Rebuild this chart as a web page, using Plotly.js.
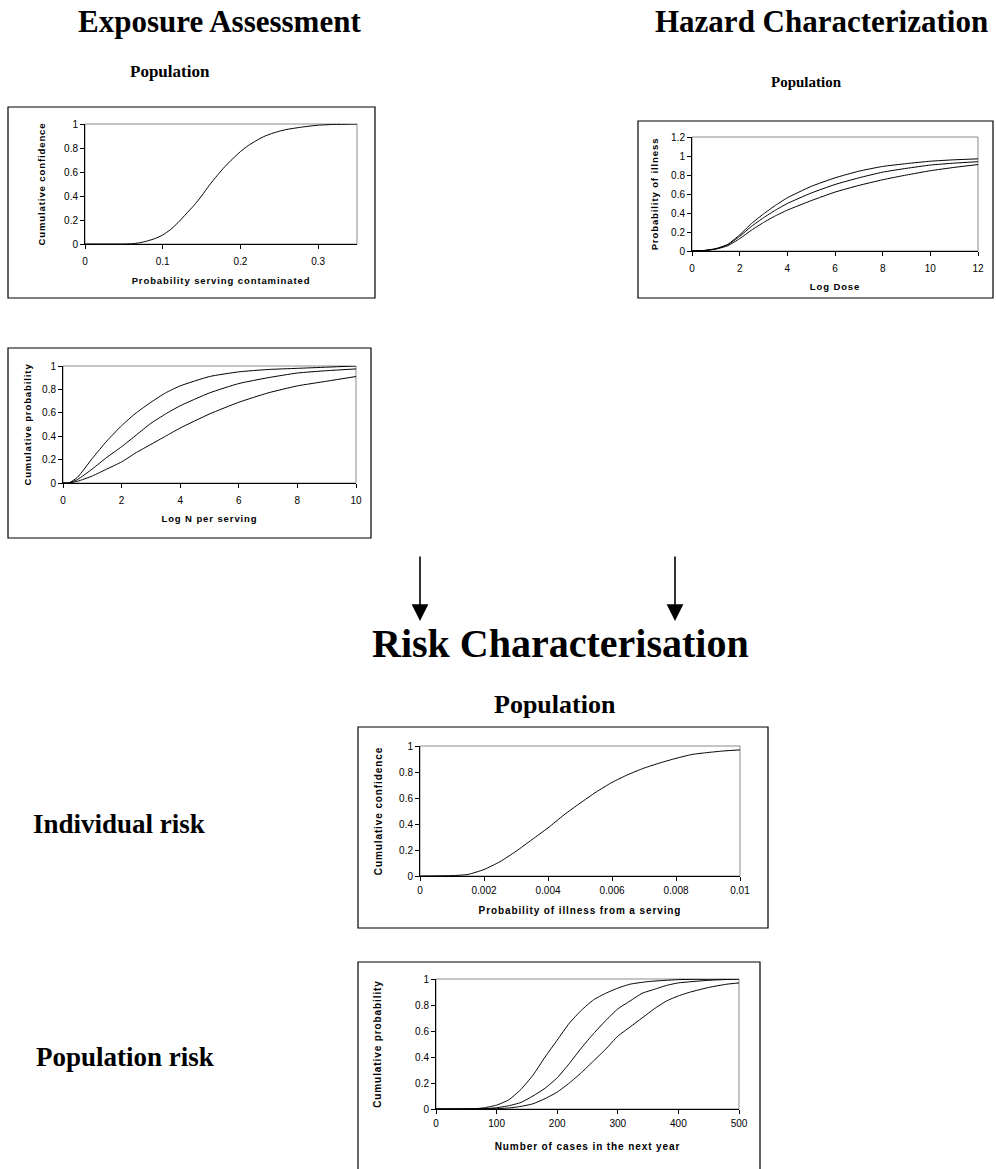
<!DOCTYPE html>
<html>
<head>
<meta charset="utf-8">
<script src="https://cdn.plot.ly/plotly-3.0.1.min.js"></script>
<style>
html,body{margin:0;padding:0;background:#fff;}
#chart{width:996px;height:1169px;}
text.xtitle,text.x2title,text.x3title,text.x4title,text.x5title,
text.ytitle,text.y2title,text.y3title,text.y4title,text.y5title{letter-spacing:0.9px;}
</style>
</head>
<body>
<div id="chart"></div>
<script>
// ---------- DATA ----------
// Exposure assessment: probability serving contaminated (cumulative confidence)
const contamX = [0, 0.05, 0.06, 0.07, 0.08, 0.09, 0.10, 0.11, 0.12, 0.13, 0.14, 0.15, 0.16, 0.17, 0.18, 0.19, 0.20, 0.21, 0.22, 0.23, 0.24, 0.25, 0.26, 0.28, 0.30, 0.32, 0.35];
const contamY = [0, 0, 0.002, 0.01, 0.025, 0.045, 0.075, 0.12, 0.18, 0.25, 0.32, 0.40, 0.49, 0.57, 0.645, 0.71, 0.77, 0.82, 0.86, 0.895, 0.92, 0.94, 0.955, 0.975, 0.99, 0.996, 1.0];

// Hazard characterization: dose-response curves
const doseX = [0, 0.5, 1, 1.5, 2, 2.5, 3, 3.5, 4, 5, 6, 7, 8, 9, 10, 11, 12];
const doseHigh = [0, 0.005, 0.025, 0.07, 0.17, 0.29, 0.39, 0.48, 0.56, 0.68, 0.77, 0.84, 0.89, 0.92, 0.945, 0.96, 0.97];
const doseMid  = [0, 0.005, 0.022, 0.065, 0.155, 0.26, 0.35, 0.43, 0.50, 0.61, 0.70, 0.77, 0.83, 0.87, 0.905, 0.925, 0.94];
const doseLow  = [0, 0.004, 0.02, 0.055, 0.13, 0.22, 0.30, 0.37, 0.43, 0.53, 0.62, 0.69, 0.75, 0.80, 0.845, 0.88, 0.91];

// Exposure assessment: Log N per serving
const logNX = [0, 0.2, 0.5, 1, 1.5, 2, 2.5, 3, 3.5, 4, 5, 6, 7, 8, 9, 10];
const logNHigh = [0, 0, 0.05, 0.21, 0.36, 0.49, 0.60, 0.69, 0.77, 0.83, 0.91, 0.95, 0.97, 0.98, 0.99, 1.0];
const logNMid  = [0, 0, 0.03, 0.12, 0.22, 0.31, 0.41, 0.51, 0.59, 0.66, 0.77, 0.85, 0.90, 0.94, 0.96, 0.975];
const logNLow  = [0, 0, 0.015, 0.06, 0.12, 0.18, 0.26, 0.33, 0.40, 0.47, 0.59, 0.69, 0.77, 0.83, 0.87, 0.91];

// Risk characterisation: individual risk
const indivX = [0, 0.001, 0.0015, 0.002, 0.0025, 0.003, 0.0035, 0.004, 0.0045, 0.005, 0.0055, 0.006, 0.0065, 0.007, 0.0075, 0.008, 0.0085, 0.009, 0.0095, 0.01];
const indivY = [0, 0.003, 0.012, 0.05, 0.11, 0.19, 0.28, 0.37, 0.47, 0.56, 0.645, 0.72, 0.78, 0.83, 0.87, 0.905, 0.935, 0.95, 0.962, 0.97];

// Risk characterisation: population risk (number of cases)
const casesX1 = [0, 60, 80, 100, 120, 140, 160, 180, 200, 220, 240, 260, 280, 300, 320, 350, 400, 500];
const casesY1 = [0, 0, 0.01, 0.03, 0.07, 0.15, 0.26, 0.40, 0.53, 0.66, 0.76, 0.84, 0.89, 0.93, 0.96, 0.98, 0.995, 1.0];
const casesX2 = [0, 80, 100, 120, 140, 160, 180, 200, 220, 240, 260, 280, 300, 320, 340, 360, 380, 400, 450, 500];
const casesY2 = [0, 0.003, 0.01, 0.025, 0.05, 0.10, 0.16, 0.24, 0.35, 0.47, 0.58, 0.68, 0.77, 0.83, 0.89, 0.92, 0.95, 0.97, 0.99, 1.0];
const casesX3 = [0, 100, 120, 140, 160, 180, 200, 220, 240, 260, 280, 300, 320, 340, 360, 380, 400, 420, 450, 480, 500];
const casesY3 = [0, 0.003, 0.008, 0.02, 0.04, 0.08, 0.13, 0.20, 0.28, 0.37, 0.46, 0.56, 0.63, 0.70, 0.77, 0.83, 0.87, 0.90, 0.935, 0.96, 0.97];

// Text labels
const headings = ["Exposure Assessment", "Hazard Characterization", "Risk Characterisation"];
const subLabel = "Population";
const riskLabels = ["Individual risk", "Population risk"];

// ---------- LAYOUT HELPERS ----------
const W = 996, H = 1169;
const px = v => v / W;
const py = v => 1 - v / H;
const serif = "Liberation Serif, Times New Roman, serif";
const sans = "Liberation Sans, Arial, sans-serif";

const lineStyle = {color: '#000', width: 1, shape: 'spline', smoothing: 0.5};
function tr(x, y, n) {
  return {x: x, y: y, type: 'scatter', mode: 'lines', line: lineStyle,
          xaxis: 'x' + (n === 1 ? '' : n), yaxis: 'y' + (n === 1 ? '' : n),
          hoverinfo: 'skip', showlegend: false};
}

const traces = [
  tr(contamX, contamY, 1),
  tr(doseX, doseHigh, 2), tr(doseX, doseMid, 2), tr(doseX, doseLow, 2),
  tr(logNX, logNHigh, 3), tr(logNX, logNMid, 3), tr(logNX, logNLow, 3),
  tr(indivX, indivY, 4),
  tr(casesX1, casesY1, 5), tr(casesX2, casesY2, 5), tr(casesX3, casesY3, 5)
];

function xax(l, r, range, dtick, title, n, fs, tfs, lblOff, standoff) {
  return {domain: [px(l), px(r)], range: range, dtick: dtick, tick0: 0,
          showline: true, linecolor: '#000', linewidth: 1, ticks: 'outside', ticklen: 4,
          tickcolor: '#000', showgrid: false, zeroline: false, fixedrange: true,
          tickfont: {family: sans, size: fs, color: '#000'}, ticklabelstandoff: lblOff,
          anchor: 'y' + (n === 1 ? '' : n), automargin: false,
          title: {text: '<b>' + title + '</b>', font: {family: sans, size: tfs, color: '#000'}, standoff: standoff}};
}
function yax(t, b, range, title, n, fs, tfs, standoff) {
  return {domain: [py(b), py(t)], range: range, dtick: 0.2, tick0: 0,
          showline: true, linecolor: '#000', linewidth: 1, ticks: 'outside', ticklen: 4,
          tickcolor: '#000', showgrid: false, zeroline: false, fixedrange: true,
          tickfont: {family: sans, size: fs, color: '#000'},
          anchor: 'x' + (n === 1 ? '' : n), automargin: false,
          title: {text: '<b>' + title + '</b>', font: {family: sans, size: tfs, color: '#000'}, standoff: standoff}};
}

function box(l, t, r, b) {
  return {type: 'rect', xref: 'paper', yref: 'paper', x0: px(l), x1: px(r), y0: py(b), y1: py(t),
          line: {color: '#000', width: 1.2}, fillcolor: 'rgba(0,0,0,0)'};
}
function frame(n) {
  const s = n === 1 ? '' : n;
  return {type: 'rect', xref: 'x' + s + ' domain', yref: 'y' + s + ' domain', x0: 0, x1: 1, y0: 0, y1: 1,
          line: {color: '#8c8c8c', width: 1}, layer: 'below'};
}

function txt(text, x, y, size) {
  return {text: '<b>' + text + '</b>', x: px(x), y: py(y), xref: 'paper', yref: 'paper',
          xanchor: 'center', yanchor: 'middle', showarrow: false,
          font: {family: serif, size: size, color: '#000'}};
}
function arrow(x, yTip, len) {
  return {text: '', x: px(x), y: py(yTip), xref: 'paper', yref: 'paper', ax: 0, ay: -len,
          showarrow: true, arrowhead: 2, arrowsize: 2.1, arrowwidth: 1.6, arrowcolor: '#000'};
}

const layout = {
  width: W, height: H, margin: {l: 0, r: 0, t: 0, b: 0},
  paper_bgcolor: '#fff', plot_bgcolor: 'rgba(0,0,0,0)', showlegend: false,
  xaxis:  xax(85, 357, [0, 0.35], 0.1, 'Probability serving contaminated', 1, 10, 9.5, 4, 11),
  yaxis:  yax(124, 244, [0, 1], 'Cumulative confidence', 1, 10, 9.5, 16),
  xaxis2: xax(692, 978, [0, 12], 2, 'Log Dose', 2, 10, 9.5, 4, 10),
  yaxis2: yax(137, 251, [0, 1.2], 'Probability of illness', 2, 10, 9.5, 10),
  xaxis3: xax(63, 356, [0, 10], 2, 'Log N per serving', 3, 10, 9.5, 4, 10),
  yaxis3: yax(366, 483, [0, 1], 'Cumulative probability', 3, 10, 9.5, 8),
  xaxis4: xax(420, 740, [0, 0.01], 0.002, 'Probability of illness from a serving', 4, 10, 10, 1, 11),
  yaxis4: yax(746, 876, [0, 1], 'Cumulative confidence', 4, 10, 10, 14),
  xaxis5: xax(436, 739, [0, 500], 100, 'Number of cases in the next year', 5, 10, 10, 1, 14),
  yaxis5: yax(979, 1109, [0, 1], 'Cumulative probability', 5, 10, 10, 31),
  shapes: [
    box(8, 107, 375, 298), box(638, 121, 993, 298), box(8, 348, 371, 538),
    box(358, 727, 768, 928), box(358, 962, 760, 1180),
    frame(1), frame(2), frame(3), frame(4), frame(5)
  ],
  annotations: [
    txt(headings[0], 219, 21, 31),
    txt(headings[1], 821, 21, 31),
    txt(subLabel, 170, 72, 17),
    txt(subLabel, 806, 82, 15),
    arrow(420, 621, 66),
    arrow(675, 621, 66),
    txt(headings[2], 560, 643, 40),
    txt(subLabel, 555, 704, 26),
    txt(riskLabels[0], 119, 824, 27),
    txt(riskLabels[1], 125, 1057, 27)
  ]
};

Plotly.newPlot('chart', traces, layout, {staticPlot: true, displayModeBar: false});
</script>
</body>
</html>
